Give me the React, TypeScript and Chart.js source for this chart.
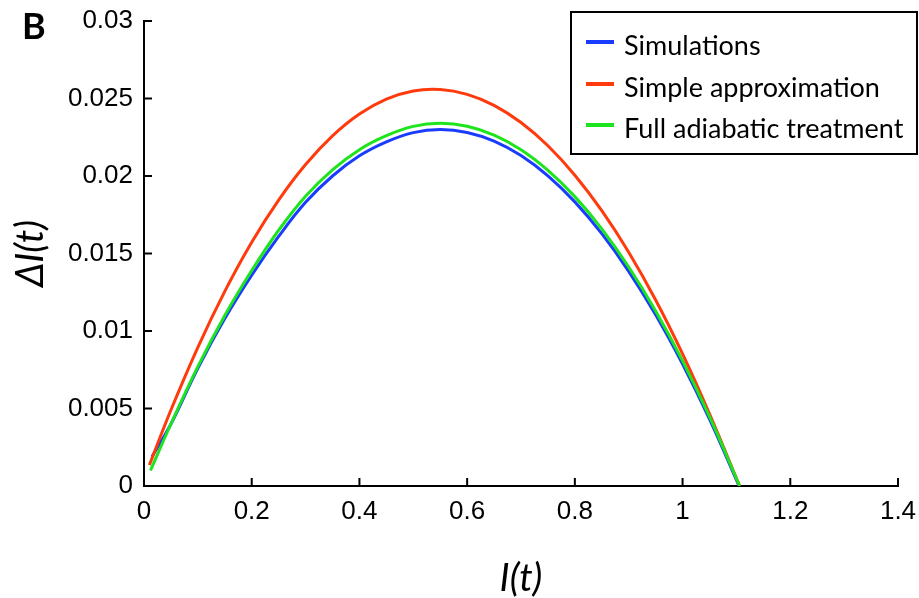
import React, { useEffect, useRef } from 'react';
import { Chart, registerables } from 'chart.js';

Chart.register(...registerables);

// ---- data ----
const seriesNames = ['Simulations', 'Simple approximation', 'Full adiabatic treatment'];
const seriesColors = ['#1a3cff', '#ff3a0c', '#1ee41e'];

const simX = [0.015, 0.05, 0.1, 0.15, 0.2, 0.25, 0.3, 0.35, 0.4, 0.45, 0.5, 0.55, 0.6, 0.65, 0.7, 0.75, 0.8, 0.85, 0.9, 0.95, 1.0, 1.05, 1.105];
const simY = [0.0019, 0.0040, 0.0076, 0.0108, 0.0136, 0.0161, 0.0183, 0.0200, 0.0213, 0.0222, 0.0228, 0.0230, 0.02281, 0.02225, 0.02132, 0.02001, 0.01833, 0.01628, 0.01385, 0.01105, 0.00787, 0.00432, 0];

const approxX = [0.01, 0.05, 0.1, 0.15, 0.2, 0.25, 0.3, 0.35, 0.4, 0.45, 0.5, 0.55, 0.6, 0.65, 0.7, 0.75, 0.8, 0.85, 0.9, 0.95, 1.0, 1.05, 1.106];
const approxY = [0.00135, 0.0049, 0.00895, 0.01256, 0.01573, 0.01845, 0.02074, 0.02259, 0.0240, 0.02496, 0.02549, 0.02558, 0.02527, 0.02456, 0.02345, 0.02195, 0.02005, 0.01776, 0.01508, 0.0120, 0.00852, 0.00465, 0];

const fullX = [0.012, 0.05, 0.1, 0.15, 0.2, 0.25, 0.3, 0.35, 0.4, 0.45, 0.5, 0.55, 0.6, 0.65, 0.7, 0.75, 0.8, 0.85, 0.9, 0.95, 1.0, 1.05, 1.106];
const fullY = [0.0010, 0.0040, 0.0077, 0.0110, 0.0139, 0.0165, 0.0187, 0.0204, 0.0217, 0.0226, 0.0232, 0.0234, 0.02321, 0.02264, 0.0217, 0.02037, 0.01867, 0.01659, 0.01413, 0.01129, 0.00807, 0.00447, 0];

const xTickValues = [0, 0.2, 0.4, 0.6, 0.8, 1, 1.2, 1.4];
const xTickLabels = ['0', '0.2', '0.4', '0.6', '0.8', '1', '1.2', '1.4'];
const yTickValues = [0, 0.005, 0.01, 0.015, 0.02, 0.025, 0.03];
const yTickLabels = ['0', '0.005', '0.01', '0.015', '0.02', '0.025', '0.03'];

const xTitle = 'I(t)';
const yTitle = 'ΔI(t)';
const panelLetter = 'B';

const toPoints = (xs: number[], ys: number[]) => xs.map((x, i) => ({ x, y: ys[i] }));

const decorPlugin = {
  id: 'decor',
  afterDraw(chart: any) {
    const { ctx, chartArea, scales } = chart;
    ctx.save();
    // inward ticks
    ctx.strokeStyle = '#000';
    ctx.lineWidth = 2;
    xTickValues.forEach((v) => {
      const px = scales.x.getPixelForValue(v);
      ctx.beginPath();
      ctx.moveTo(px, chartArea.bottom);
      ctx.lineTo(px, chartArea.bottom - 8);
      ctx.stroke();
    });
    yTickValues.forEach((v) => {
      const py = scales.y.getPixelForValue(v);
      ctx.beginPath();
      ctx.moveTo(chartArea.left, py);
      ctx.lineTo(chartArea.left + 8, py);
      ctx.stroke();
    });

    // panel letter
    ctx.fillStyle = '#000';
    ctx.font = 'bold 36px Lato';
    ctx.textBaseline = 'alphabetic';
    ctx.textAlign = 'left';
    ctx.fillText(panelLetter, 22, 39);

    // legend box
    const bx = 571, by = 12, bw = 346, bh = 142;
    ctx.fillStyle = '#fff';
    ctx.fillRect(bx, by, bw, bh);
    ctx.strokeStyle = '#000';
    ctx.lineWidth = 2;
    ctx.strokeRect(bx, by, bw, bh);
    const rowY = [42, 84, 125];
    ctx.font = '27px Lato';
    chart.data.datasets.forEach((ds: any, i: number) => {
      const y = rowY[i];
      ctx.strokeStyle = ds.borderColor;
      ctx.lineWidth = 4;
      ctx.beginPath();
      ctx.moveTo(586, y);
      ctx.lineTo(614, y);
      ctx.stroke();
      ctx.fillStyle = '#000';
      ctx.fillText(ds.label, 624, y + 13);
    });
    ctx.restore();
  },
};

export default function App() {
  const canvasRef = useRef<HTMLCanvasElement | null>(null);

  useEffect(() => {
    if (!canvasRef.current) return;
    const seriesData = [toPoints(simX, simY), toPoints(approxX, approxY), toPoints(fullX, fullY)];
    const orders = [2, 1, 0];
    const chart = new Chart(canvasRef.current, {
      type: 'line',
      data: {
        datasets: seriesNames.map((name, i) => ({
          label: name,
          data: seriesData[i],
          borderColor: seriesColors[i],
          backgroundColor: seriesColors[i],
          borderWidth: 3,
          pointRadius: 0,
          fill: false,
          tension: 0.4,
          order: orders[i],
        })),
      },
      options: {
        animation: false,
        responsive: false,
        layout: { padding: { top: 21, right: 21, left: 0, bottom: 0 } },
        plugins: { legend: { display: false }, tooltip: { enabled: false } },
        scales: {
          x: {
            type: 'linear',
            min: 0,
            max: 1.4,
            afterBuildTicks: (scale: any) => {
              scale.ticks = xTickValues.map((v) => ({ value: v }));
            },
            afterFit: (scale: any) => {
              scale.height = 112;
              scale.paddingLeft = 0;
              scale.paddingRight = 0;
            },
            ticks: {
              callback: (_v: any, idx: number) => xTickLabels[idx],
              font: { family: 'Liberation Sans', size: 26 },
              color: '#000',
              padding: 10,
              maxRotation: 0,
              autoSkip: false,
            },
            grid: { display: false, drawTicks: false },
            border: { display: true, color: '#000', width: 2 },
            title: {
              display: true,
              text: xTitle,
              font: { family: 'Lato', size: 38, style: 'italic', lineHeight: 1.0 },
              color: '#000',
              padding: { top: 0, bottom: 0 },
            },
          },
          y: {
            type: 'linear',
            min: 0,
            max: 0.03,
            afterBuildTicks: (scale: any) => {
              scale.ticks = yTickValues.map((v) => ({ value: v }));
            },
            afterFit: (scale: any) => {
              scale.width = 144;
              scale.paddingTop = 0;
              scale.paddingBottom = 0;
            },
            ticks: {
              callback: (_v: any, idx: number) => yTickLabels[idx],
              font: { family: 'Liberation Sans', size: 26 },
              color: '#000',
              padding: 11,
              autoSkip: false,
            },
            grid: { display: false, drawTicks: false },
            border: { display: true, color: '#000', width: 2 },
            title: {
              display: true,
              text: yTitle,
              font: { family: 'Lato', size: 38, style: 'italic', lineHeight: 1.0 },
              color: '#000',
              padding: { top: 12, bottom: 0 },
            },
          },
        },
      },
      plugins: [decorPlugin],
    } as any);
    return () => chart.destroy();
  }, []);

  return (
    <div style={{ position: 'fixed', left: 0, top: 0, width: 919, height: 598, background: '#fff' }}>
      <canvas ref={canvasRef} width={919} height={598} style={{ display: 'block' }} />
    </div>
  );
}
